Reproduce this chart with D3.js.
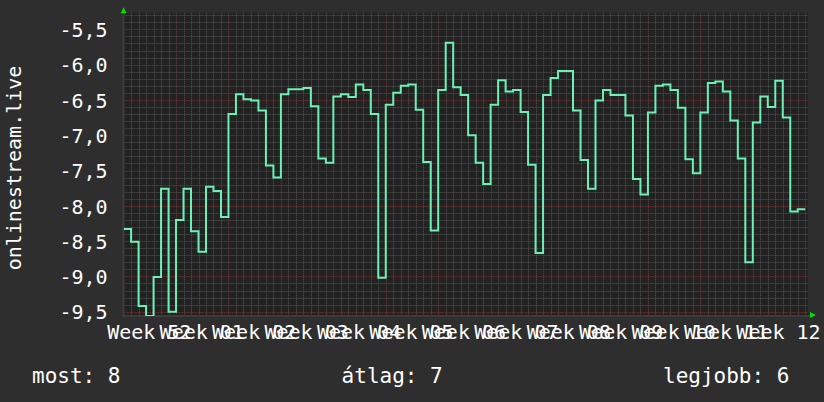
<!DOCTYPE html>
<html><head><meta charset="utf-8">
<script src="https://cdn.jsdelivr.net/npm/d3@7/dist/d3.min.js"></script>
<style>
body{margin:0;background:#2e2e2e;}
text{font-family:"DejaVu Sans Mono",monospace;fill:#ffffff;}
</style></head>
<body><svg id="c" width="824" height="402"></svg>
<script>
const weekLabels = ["Week 52","Week 01","Week 02","Week 03","Week 04","Week 05","Week 06","Week 07","Week 08","Week 09","Week 10","Week 11","Week 12"];
const dailyValues = [
 -8.33,-8.51,-9.42,-9.56,-9.01,-7.76,-9.50,-8.20,-7.76,-8.36,-8.65,-7.73,-7.79,-8.16,
 -6.70,-6.42,-6.49,-6.51,-6.65,-7.43,-7.60,-6.42,-6.35,-6.35,-6.33,-6.59,-7.33,-7.39,
 -6.45,-6.42,-6.46,-6.28,-6.36,-6.70,-9.02,-6.57,-6.40,-6.30,-6.28,-6.64,-7.38,-8.35,
 -6.36,-5.69,-6.32,-6.43,-7.00,-7.39,-7.69,-6.57,-6.22,-6.38,-6.36,-6.67,-7.42,-8.67,
 -6.43,-6.19,-6.09,-6.09,-6.65,-7.35,-7.76,-6.51,-6.36,-6.43,-6.43,-6.72,-7.62,-7.84,
 -6.68,-6.30,-6.28,-6.36,-6.61,-7.34,-7.54,-6.68,-6.26,-6.24,-6.38,-6.79,-7.33,-8.80,
 -6.82,-6.45,-6.60,-6.23,-6.75,-8.08,-8.05
];
const yTicks = [-5.5,-6.0,-6.5,-7.0,-7.5,-8.0,-8.5,-9.0,-9.5];
const legendLabels = ["most: 8","átlag: 7","legjobb: 6"];
const yTitle = "onlinestream.live";

const svg = d3.select("#c");
const L = 123.6, R = 808, T = 13.3, B = 315;
const nDays = dailyValues.length;
const x = d3.scaleLinear().domain([0, nDays + 0.37]).range([L, R]);
const y = d3.scaleLinear().domain([-9.547, -5.273]).range([B, T]);
const fmt = d3.formatLocale({decimal:",",thousands:".",grouping:[3],currency:["",""],minus:"-"}).format(".1f");

svg.append("rect").attr("width",824).attr("height",402).attr("fill","#2e2e2e");
svg.append("rect").attr("x",L).attr("y",T).attr("width",R-L).attr("height",B-T).attr("fill","#222222");

const grid = svg.append("g");
d3.range(-95,-52).map(d=>d/10).forEach(v=>{
  if (Math.abs(v*2 - Math.round(v*2))<1e-6) return;
  grid.append("line").attr("x1",L).attr("x2",R).attr("y1",Math.round(y(v))+0.5).attr("y2",Math.round(y(v))+0.5)
    .attr("stroke","#555555").attr("stroke-width",1).attr("stroke-dasharray","1,1");
});
d3.range(1, nDays+1).forEach(d=>{
  if (d%7===0) return;
  grid.append("line").attr("y1",T).attr("y2",B).attr("x1",Math.round(x(d))+0.5).attr("x2",Math.round(x(d))+0.5)
    .attr("stroke","#555555").attr("stroke-width",1).attr("stroke-dasharray","1,1");
});
yTicks.forEach(v=>{
  grid.append("line").attr("x1",L).attr("x2",R).attr("y1",Math.round(y(v))+0.5).attr("y2",Math.round(y(v))+0.5)
    .attr("stroke","#823636").attr("stroke-width",1).attr("stroke-dasharray","1,1");
});
d3.range(7, nDays+1, 7).forEach(d=>{
  grid.append("line").attr("y1",T).attr("y2",B).attr("x1",Math.round(x(d))+0.5).attr("x2",Math.round(x(d))+0.5)
    .attr("stroke","#823636").attr("stroke-width",1).attr("stroke-dasharray","1,1");
});

svg.append("line").attr("x1",L).attr("x2",R+2).attr("y1",B+1).attr("y2",B+1).attr("stroke","#3c3c3c").attr("stroke-width",2);
svg.append("line").attr("x1",L).attr("x2",L).attr("y1",T-2).attr("y2",B+2).attr("stroke","#3c3c3c").attr("stroke-width",2);
svg.append("path").attr("d",`M${L-3},${T} L${L+3},${T} L${L},${T-6} Z`).attr("fill","#00dd00");
svg.append("path").attr("d",`M${R+2},${B-3} L${R+2},${B+3} L${R+8},${B} Z`).attr("fill","#00dd00");

const pts = dailyValues.map((v,i)=>[i,v]);
pts.push([nDays, dailyValues[nDays-1]]);
svg.append("clipPath").attr("id","clip").append("rect").attr("x",L).attr("y",T).attr("width",R-L).attr("height",B-T+1);
svg.append("path").datum(pts).attr("clip-path","url(#clip)")
  .attr("fill","none").attr("stroke","#6cf0b4").attr("stroke-width",2)
  .attr("d", d3.line().x(d=>x(d[0])).y(d=>y(d[1])).curve(d3.curveStepAfter));

const yAxis = d3.axisLeft(y).tickValues(yTicks).tickFormat(fmt).tickSize(0).tickPadding(0);
const yg = svg.append("g").attr("transform",`translate(${L-16},0)`).call(yAxis);
yg.select(".domain").remove();
yg.selectAll("text").attr("font-size",20).attr("fill","#fff").attr("font-family","DejaVu Sans Mono").attr("dy","0.36em");

const xAxis = d3.axisBottom(x).tickValues(weekLabels.map((_,i)=>i*7+3.5)).tickFormat((d,i)=>weekLabels[i]).tickSize(0).tickPadding(0);
const xg = svg.append("g").attr("transform",`translate(-1,${B+10})`).call(xAxis);
xg.select(".domain").remove();
xg.selectAll("text").attr("font-size",20).attr("fill","#fff").attr("font-family","DejaVu Sans Mono").attr("dy","0.71em");

svg.append("text").attr("transform",`translate(21,168) rotate(-90)`).attr("text-anchor","middle")
  .attr("font-size",20).text(yTitle);

const legX = [32, 341.6, 663];
legendLabels.forEach((t,i)=>{
  svg.append("text").attr("x",legX[i]).attr("y",383).attr("font-size",21).text(t);
});
</script></body></html>
